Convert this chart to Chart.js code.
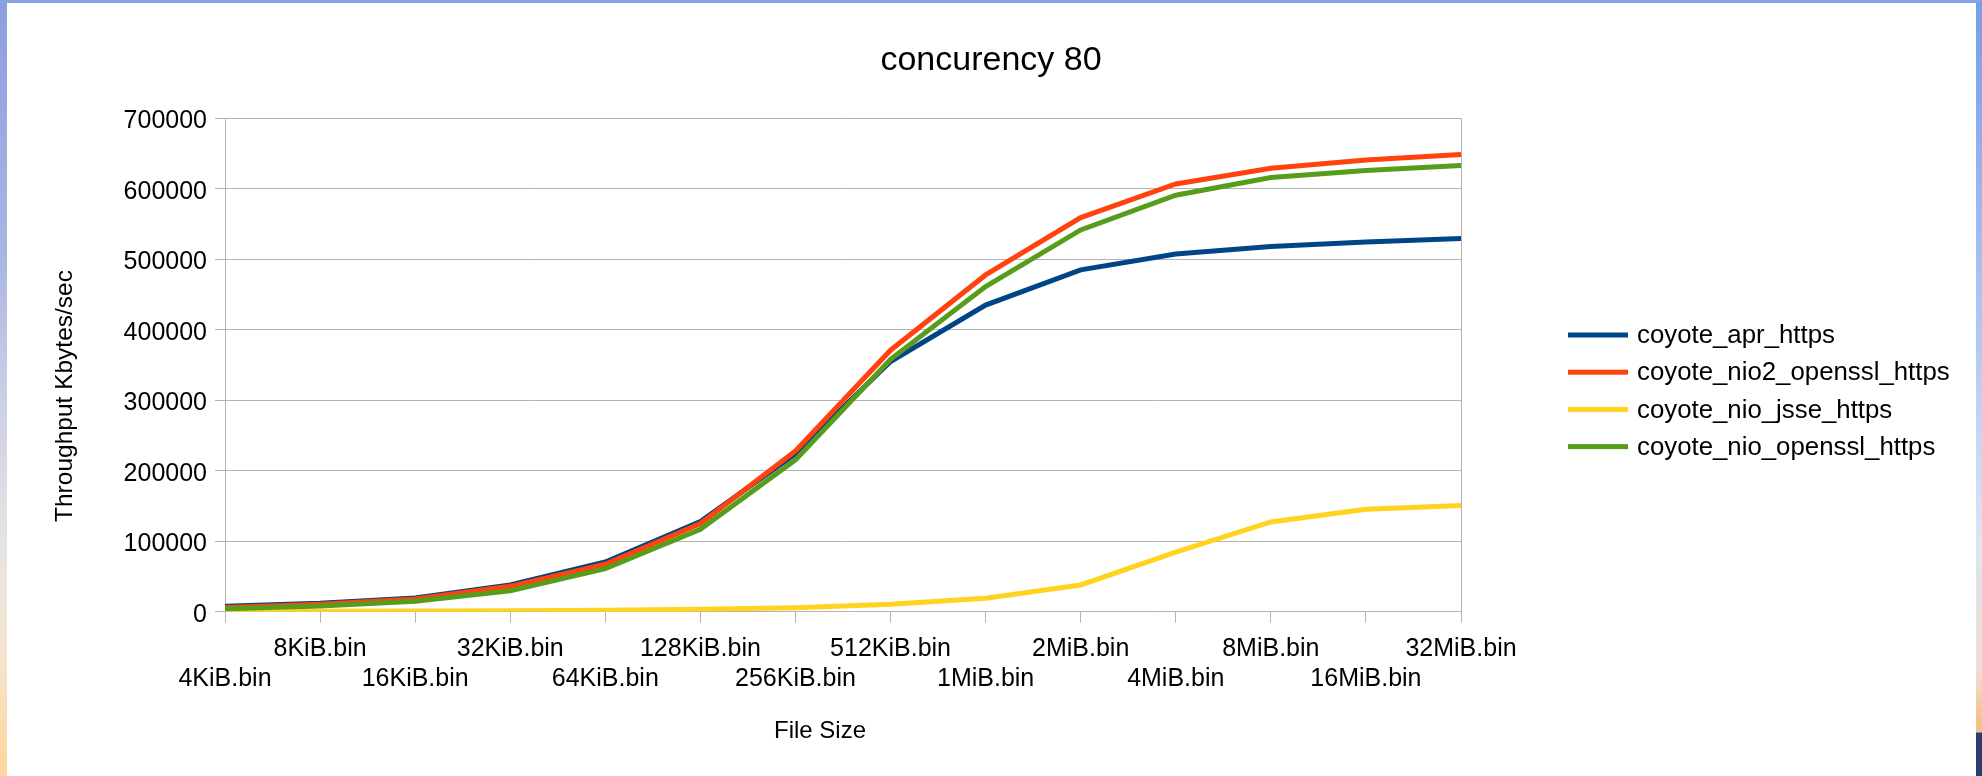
<!DOCTYPE html>
<html>
<head>
<meta charset="utf-8">
<title>concurency 80</title>
<script src="https://cdn.jsdelivr.net/npm/chart.js@4.4.1/dist/chart.umd.min.js"></script>
<style>
  html, body { margin: 0; padding: 0; }
  body { width: 1982px; height: 776px; position: relative; overflow: hidden; background: #ffffff; }
  .band { position: absolute; }
  #bandLeft {
    left: 0; top: 0; width: 7px; height: 776px;
    background: linear-gradient(to bottom, #8c9ee0 0%, #aab6e2 33%, #c9cde6 50%, #e0dfe4 65%, #ece5dc 75%, #f5e4cc 85%, #ffd59a 100%);
  }
  #bandRight {
    left: 1976px; top: 0; width: 6px; height: 776px;
    background: linear-gradient(to bottom, #7b9be6 0%, #a4bff0 33%, #bccff4 50%, #dfe4f0 70%, #eedcd0 87%, #f4c08c 93%, #f4c08c 94.3%, #2c3d70 94.5%, #2c3d70 100%);
  }
  #bandTop { left: 0; top: 0; width: 1982px; height: 3px; background: #88a3e8; }
  #wrap { position: absolute; left: 0; top: 0; width: 1982px; height: 776px; }
</style>
</head>
<body>
<div class="band" id="bandLeft"></div>
<div class="band" id="bandRight"></div>
<div class="band" id="bandTop"></div>
<div id="wrap"><canvas id="chart"></canvas></div>
<script>
// File sizes requested by the benchmark client
const categories = ['4KiB.bin', '8KiB.bin', '16KiB.bin', '32KiB.bin', '64KiB.bin', '128KiB.bin', '256KiB.bin',
                    '512KiB.bin', '1MiB.bin', '2MiB.bin', '4MiB.bin', '8MiB.bin', '16MiB.bin', '32MiB.bin'];

// Throughput in Kbytes/sec per connector
const coyoteApr         = [7700, 11900, 19400, 37900, 70500, 128000, 224000, 355000, 435000, 485000, 507600, 518000, 524600, 529300];
const coyoteNio2Openssl = [6000, 10500, 17900, 36000, 67300, 125000, 228000, 371000, 477800, 559100, 606900, 629200, 641000, 648500];
const coyoteNioJsse     = [500, 700, 900, 1200, 2000, 3400, 5700, 10500, 19000, 37900, 84400, 127400, 145400, 150800];
const coyoteNioOpenssl  = [4300, 8100, 14700, 29800, 61000, 117000, 215400, 358000, 461200, 541600, 590900, 615900, 625800, 632900];

const seriesNames = ['coyote_apr_https', 'coyote_nio2_openssl_https', 'coyote_nio_jsse_https', 'coyote_nio_openssl_https'];
const seriesColors = ['#004586', '#ff420e', '#ffd320', '#579d1c'];

const yTicks = [0, 100000, 200000, 300000, 400000, 500000, 600000, 700000];

const chartTitle = 'concurency 80';
const xTitle = 'File Size';
const yTitle = 'Throughput Kbytes/sec';

const FONT = "'Liberation Sans', Arial, sans-serif";
const GRID = '#b3b3b3';

Chart.defaults.font.family = FONT;
Chart.defaults.color = '#000000';

const seriesValues = [coyoteApr, coyoteNio2Openssl, coyoteNioJsse, coyoteNioOpenssl];
// later series are painted on top of earlier ones
const datasets = seriesValues.map((values, i) => ({
  label: seriesNames[i],
  data: values,
  borderColor: seriesColors[i],
  backgroundColor: seriesColors[i],
  borderWidth: 5,
  pointRadius: 0,
  pointHoverRadius: 0,
  tension: 0,
  fill: false,
  order: seriesValues.length - i
}));

// Axis titles and the series key, drawn beside the plot
const sidePieces = {
  id: 'sidePieces',
  afterDraw(chart) {
    const ctx = chart.ctx;
    ctx.save();
    ctx.fillStyle = '#000000';
    ctx.textBaseline = 'middle';

    ctx.font = '24px ' + FONT;
    ctx.textAlign = 'center';
    ctx.fillText(xTitle, 820, 731);

    ctx.save();
    ctx.font = '24.5px ' + FONT;
    ctx.translate(65, 396);
    ctx.rotate(-Math.PI / 2);
    ctx.fillText(yTitle, 0, 0);
    ctx.restore();

    ctx.font = '25.8px ' + FONT;
    ctx.textAlign = 'left';
    chart.data.datasets.forEach((ds, i) => {
      const y = 335 + i * 37.2;
      ctx.fillStyle = ds.borderColor;
      ctx.fillRect(1568, y - 2.5, 60, 5);
      ctx.fillStyle = '#000000';
      ctx.fillText(ds.label, 1637, y + 1);
    });
    ctx.restore();
  }
};

new Chart(document.getElementById('chart'), {
  type: 'line',
  data: { labels: categories, datasets },
  plugins: [sidePieces],
  options: {
    responsive: true,
    maintainAspectRatio: false,
    animation: false,
    devicePixelRatio: 1,
    layout: { padding: 0 },
    plugins: {
      legend: { display: false },
      tooltip: { enabled: false },
      title: {
        display: true,
        text: chartTitle,
        color: '#000000',
        font: { size: 34, weight: 'normal', family: FONT },
        padding: { top: 40.6, bottom: 36.9 }
      }
    },
    scales: {
      x: {
        type: 'category',
        offset: false,
        // reserve room under the plot for the axis title and to its right for the key
        afterFit(scale) { scale.height = 164.3; scale.paddingRight = 521; },
        grid: {
          color: c => (c.index === 0 || c.index === categories.length - 1) ? GRID : 'rgba(0,0,0,0)',
          tickColor: GRID,
          tickLength: 11,
          lineWidth: 1
        },
        border: { color: GRID, width: 1 },
        ticks: {
          autoSkip: false,
          maxRotation: 0,
          minRotation: 0,
          padding: 11,
          color: '#000000',
          font: { size: 25, family: FONT },
          // alternate labels between two rows so they do not collide
          callback(value, index) {
            const name = categories[index];
            return index % 2 === 0 ? ['', name] : [name];
          }
        }
      },
      y: {
        min: 0,
        max: 700000,
        afterFit(scale) { scale.width = 225; },
        afterBuildTicks(scale) { scale.ticks = yTicks.map(v => ({ value: v })); },
        grid: { color: GRID, tickColor: GRID, tickLength: 10, lineWidth: 1 },
        border: { color: GRID, width: 1 },
        ticks: {
          padding: 8,
          labelOffset: 3,
          color: '#000000',
          font: { size: 25, family: FONT },
          callback: v => String(v)
        }
      }
    }
  }
});
</script>
</body>
</html>
